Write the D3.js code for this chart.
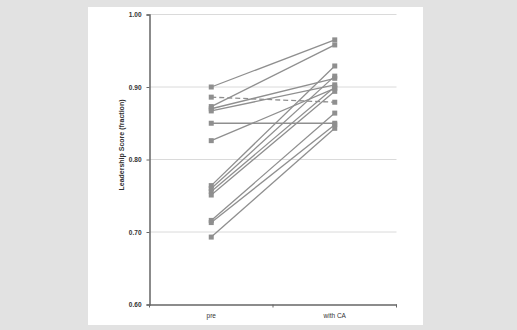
<!DOCTYPE html>
<html>
<head>
<meta charset="utf-8">
<script src="https://cdn.jsdelivr.net/npm/d3@7"></script>
<style>
  body { margin: 0; background: #e2e2e2; }
  svg { display: block; }
  text { font-family: "Liberation Sans", Arial, sans-serif; fill: #333; }
</style>
</head>
<body>
<div id="chart"></div>
<script>
var width = 517, height = 330;

// categories and paired scores
var categories = ["pre", "with CA"];
var preScores  = [0.900, 0.873, 0.886, 0.870, 0.867, 0.850, 0.826, 0.764, 0.760, 0.756, 0.751, 0.716, 0.713, 0.693];
var postScores = [0.965, 0.958, 0.879, 0.912, 0.903, 0.850, 0.898, 0.929, 0.915, 0.900, 0.894, 0.864, 0.848, 0.843];
var dashed     = [false, false, true, false, false, false, false, false, false, false, false, false, false, false];
var yTicks = [0.60, 0.70, 0.80, 0.90, 1.00];

var svg = d3.select("#chart").append("svg")
    .attr("width", width)
    .attr("height", height);

svg.append("rect")
    .attr("x", 88).attr("y", 7)
    .attr("width", 335).attr("height", 318)
    .attr("fill", "#fff");

var x = d3.scaleBand()
    .domain(categories)
    .range([149.5, 396.5]);

var y = d3.scaleLinear()
    .domain([0.6, 1.0])
    .range([304.5, 14.5]);

// gridlines
svg.append("g")
    .selectAll("line")
    .data(yTicks.slice(1))
    .enter().append("line")
    .attr("x1", 149.5).attr("x2", 396.5)
    .attr("y1", function(d) { return y(d); })
    .attr("y2", function(d) { return y(d); })
    .attr("stroke", "#dadada")
    .attr("stroke-width", 1);

// y axis
var yAxis = svg.append("g")
    .attr("transform", "translate(149.5,0)")
    .call(d3.axisLeft(y).tickValues(yTicks).tickFormat(d3.format(".2f")).tickSize(3).tickPadding(5));
yAxis.select(".domain").attr("stroke", "#666").attr("stroke-width", 1.5);
yAxis.selectAll(".tick line").attr("stroke", "#666");
yAxis.selectAll("text").style("font-size", "6.5px").style("font-weight", "bold").attr("fill", "#333");

// x axis
var xAxis = svg.append("g")
    .attr("transform", "translate(0,304.5)")
    .call(d3.axisBottom(x).tickSize(0).tickPadding(9));
xAxis.select(".domain").attr("stroke", "#666").attr("stroke-width", 1.5);
xAxis.selectAll("text").style("font-size", "6.5px").attr("fill", "#333");

// boundary ticks on x axis
svg.append("g")
    .selectAll("line")
    .data([149.5, 273, 396.5])
    .enter().append("line")
    .attr("x1", function(d) { return d; })
    .attr("x2", function(d) { return d; })
    .attr("y1", 304.5).attr("y2", 307.5)
    .attr("stroke", "#666");

// y title
svg.append("text")
    .attr("transform", "translate(124,145) rotate(-90)")
    .attr("text-anchor", "middle")
    .style("font-size", "7px")
    .style("font-weight", "bold")
    .text("Leadership Score (fraction)");

var pairs = preScores.map(function(d, i) {
  return { pre: d, post: postScores[i], dashed: dashed[i] };
});

var x0 = x("pre") + x.bandwidth() / 2,
    x1 = x("with CA") + x.bandwidth() / 2;

var g = svg.append("g");

g.selectAll(".pair")
    .data(pairs)
    .enter().append("line")
    .attr("class", "pair")
    .attr("x1", x0).attr("x2", x1)
    .attr("y1", function(d) { return y(d.pre); })
    .attr("y2", function(d) { return y(d.post); })
    .attr("stroke", "#8f8f8f")
    .attr("stroke-width", 1.3)
    .attr("stroke-dasharray", function(d) { return d.dashed ? "5,3" : null; });

var pts = [];
pairs.forEach(function(d) {
  pts.push({ c: "pre", v: d.pre });
  pts.push({ c: "with CA", v: d.post });
});

g.selectAll(".pt")
    .data(pts)
    .enter().append("rect")
    .attr("class", "pt")
    .attr("x", function(d) { return x(d.c) + x.bandwidth() / 2 - 2.5; })
    .attr("y", function(d) { return y(d.v) - 2.5; })
    .attr("width", 5).attr("height", 5)
    .attr("fill", "#8f8f8f");
</script>
</body>
</html>
